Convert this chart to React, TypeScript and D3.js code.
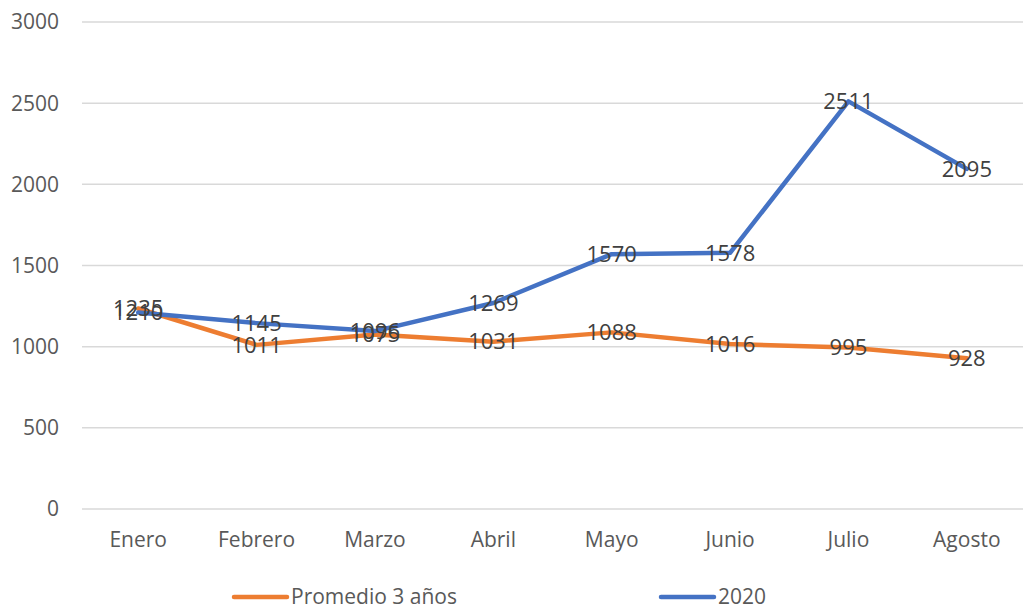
import React from "react";
import * as d3 from "d3";

const categories = ["Enero", "Febrero", "Marzo", "Abril", "Mayo", "Junio", "Julio", "Agosto"];
const promedio = [1235, 1011, 1075, 1031, 1088, 1016, 995, 928];
const serie2020 = [1210, 1145, 1096, 1269, 1570, 1578, 2511, 2095];
const yTicks = [0, 500, 1000, 1500, 2000, 2500, 3000];
const seriesNames = ["Promedio 3 años", "2020"];
const colors = ["#ED7D31", "#4472C4"];

const W = 1023;
const H = 607;
const FONT = "'Open Sans', 'Liberation Sans', sans-serif";

export default function App() {
  const x = d3.scaleBand<string>().domain(categories).range([79, 1026]);
  const y = d3.scaleLinear().domain([0, 3000]).range([509, 22]);
  const cx = (c: string) => (x(c) as number) + x.bandwidth() / 2;
  const line = d3
    .line<number>()
    .x((_, i) => cx(categories[i]))
    .y((v) => y(v));
  const series = [promedio, serie2020];

  return (
    <svg
      width={W}
      height={H}
      style={{ position: "absolute", left: 0, top: 0, background: "#fff" }}
      fontFamily={FONT}
    >
      <rect width={W} height={H} fill="#fff" />
      {yTicks.map((t) => (
        <g key={t}>
          <line x1={82} x2={W} y1={y(t)} y2={y(t)} stroke="#d9d9d9" strokeWidth={1.5} />
          <text x={59} y={y(t)} dy="0.35em" textAnchor="end" fontSize={21} fill="#595959">
            {t}
          </text>
        </g>
      ))}
      {categories.map((c) => (
        <text key={c} x={cx(c)} y={540} dy="0.35em" textAnchor="middle" fontSize={21} fill="#595959">
          {c}
        </text>
      ))}
      {series.map((s, i) => (
        <path
          key={i}
          d={line(s) || ""}
          fill="none"
          stroke={colors[i]}
          strokeWidth={4.5}
          strokeLinejoin="round"
          strokeLinecap="round"
        />
      ))}
      {series.map((s, i) =>
        s.map((v, j) => (
          <text
            key={`${i}-${j}`}
            x={cx(categories[j])}
            y={y(v)}
            dy="0.35em"
            textAnchor="middle"
            fontSize={22}
            fill="#404040"
          >
            {v}
          </text>
        ))
      )}
      {seriesNames.map((n, i) => {
        const lx = i === 0 ? 234 : 661;
        return (
          <g key={n}>
            <line x1={lx} x2={lx + 53} y1={597} y2={597} stroke={colors[i]} strokeWidth={4.5} strokeLinecap="round" />
            <text x={lx + 57} y={597} dy="0.35em" fontSize={21} fill="#595959">
              {n}
            </text>
          </g>
        );
      })}
    </svg>
  );
}
